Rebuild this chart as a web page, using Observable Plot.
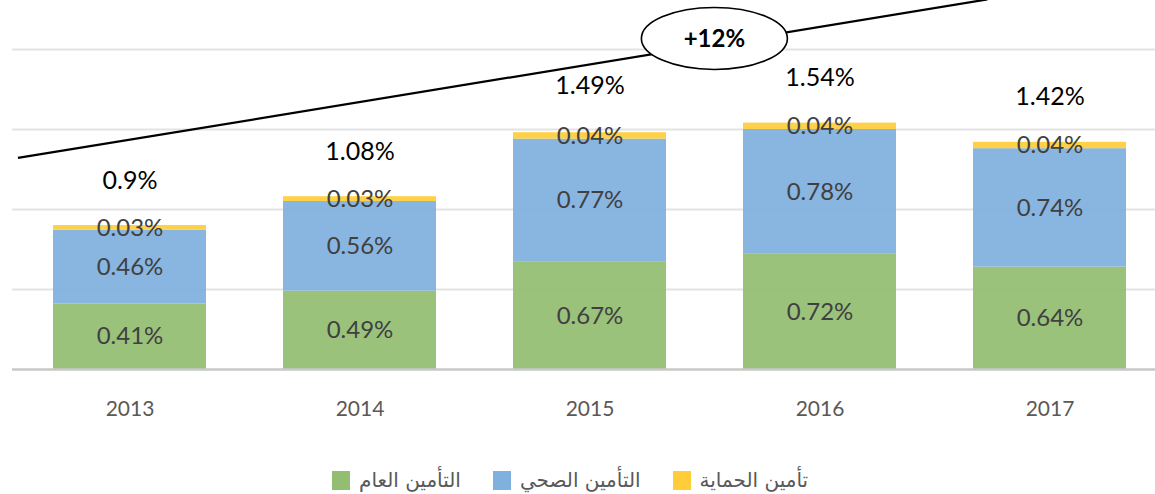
<!DOCTYPE html>
<html><head><meta charset="utf-8">
<script src="https://cdn.jsdelivr.net/npm/d3@7"></script>
<script src="https://cdn.jsdelivr.net/npm/@observablehq/plot@0.6"></script>
<style>
body{margin:0;background:#fff;}
#chart{position:absolute;top:0;left:0;}
#legend{position:absolute;top:468px;left:332px;display:flex;align-items:center;font-family:"DejaVu Sans",sans-serif;font-size:20px;color:#595959;white-space:nowrap;}
.item{display:flex;align-items:center;margin-right:32px;}
.sw{width:18px;height:19px;margin-right:9px;}
</style></head><body><div id="chart"></div><div id="legend"></div>
<script>
const years = ["2013","2014","2015","2016","2017"];
const general = [0.41,0.49,0.67,0.72,0.64];
const health = [0.46,0.56,0.77,0.78,0.74];
const protection = [0.03,0.03,0.04,0.04,0.04];
const totals = [0.9,1.08,1.49,1.54,1.42];
const seriesNames = ["التأمين العام","التأمين الصحي","تأمين الحماية"];
const seriesColors = ["#93bd71","#80b0de","#ffcd3a"];
const gridValues = [0.5,1,1.5,2];
const trendLine = [{pos:-0.485, v:1.319},{pos:3.73, v:2.31}];
const trendLabel = {pos:2.543, v:2.066, text:"+12%"};

const seriesValues = [general, health, protection];
const rows = [];
seriesValues.forEach((vals, s) => vals.forEach((v, i) => rows.push({year: years[i], series: seriesNames[s], value: v})));
const totalRows = years.map((y, i) => ({year: y, total: totals[i]}));

function trendMark(index, scales) {
  const x = scales.x, y = scales.y;
  const step = x(years[1]) - x(years[0]);
  let bw = x.bandwidth;
  bw = typeof bw === "function" ? bw() : (bw ?? step * 0.667);
  const px = p => x(years[0]) + bw / 2 + p * step;
  const g = d3.create("svg:g");
  g.append("line")
    .attr("x1", px(trendLine[0].pos)).attr("y1", y(trendLine[0].v))
    .attr("x2", px(trendLine[1].pos)).attr("y2", y(trendLine[1].v))
    .attr("stroke", "#000").attr("stroke-width", 2.2);
  g.append("ellipse")
    .attr("cx", px(trendLabel.pos)).attr("cy", y(trendLabel.v))
    .attr("rx", 73).attr("ry", 31)
    .attr("fill", "#fff").attr("stroke", "#000").attr("stroke-width", 1.6);
  g.append("text")
    .attr("x", px(trendLabel.pos)).attr("y", y(trendLabel.v))
    .attr("dy", "0.35em").attr("text-anchor", "middle")
    .attr("font-family", "Lato, sans-serif").attr("font-weight", "bold").attr("font-size", 24)
    .attr("fill", "#000").text(trendLabel.text);
  return g.node();
}

const chart = Plot.plot({
  width: 1155,
  height: 440,
  marginTop: 0,
  marginLeft: 12,
  marginRight: 0,
  marginBottom: 71,
  style: {fontFamily: "Lato, sans-serif", background: "#fff"},
  x: {domain: years, range: [12.5, 1167.5], paddingInner: 0.333, paddingOuter: 0.1667, label: null},
  y: {domain: [0, 2.3], range: [369, 1], axis: null},
  color: {domain: seriesNames, range: seriesColors},
  marks: [
    Plot.ruleY(gridValues, {stroke: "#e3e3e3", strokeWidth: 2}),
    Plot.barY(rows, {x: "year", y: "value", fill: "series", fillOpacity: 0.93}),
    Plot.ruleY([0], {stroke: "#c8c8c8", strokeWidth: 2.5}),
    Plot.text(rows, Plot.stackY({x: "year", y: "value", z: "series", text: d => d.value.toFixed(2) + "%", fill: "#404040", fontSize: 24})),
    Plot.text(totalRows, {x: "year", y: "total", text: d => d.total + "%", dy: -45, fill: "#000", fontSize: 25}),
    Plot.axisX({tickSize: 0, tickPadding: 32, fontSize: 21, color: "#595959"}),
    trendMark
  ]
});
document.getElementById("chart").appendChild(chart);

const legend = document.getElementById("legend");
seriesNames.forEach((name, i) => {
  const item = document.createElement("div");
  item.className = "item";
  const sw = document.createElement("span");
  sw.className = "sw";
  sw.style.background = seriesColors[i];
  const t = document.createElement("span");
  t.textContent = name;
  t.dir = "rtl";
  item.appendChild(sw);
  item.appendChild(t);
  legend.appendChild(item);
});
</script></body></html>
